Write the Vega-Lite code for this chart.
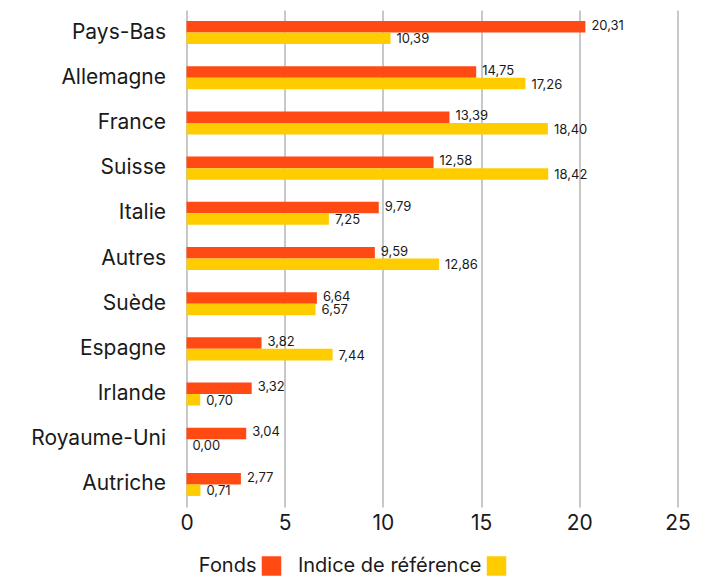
{
  "$schema": "https://vega.github.io/schema/vega-lite/v6.json",
  "autosize": {"type": "none"},
  "padding": {"left": 186.5, "top": 10, "right": 27.5, "bottom": 76},
  "width": 491,
  "height": 497,
  "background": "white",
  "config": {
    "font": "Inter",
    "view": {"stroke": null},
    "locale": {"number": {"decimal": ",", "thousands": " ", "grouping": [3], "currency": ["", " €"]}}
  },
  "data": {
    "values": [
      {"pays": "Pays-Bas", "serie": "Fonds", "valeur": 20.31},
      {"pays": "Pays-Bas", "serie": "Indice de référence", "valeur": 10.39},
      {"pays": "Allemagne", "serie": "Fonds", "valeur": 14.75},
      {"pays": "Allemagne", "serie": "Indice de référence", "valeur": 17.26},
      {"pays": "France", "serie": "Fonds", "valeur": 13.39},
      {"pays": "France", "serie": "Indice de référence", "valeur": 18.40},
      {"pays": "Suisse", "serie": "Fonds", "valeur": 12.58},
      {"pays": "Suisse", "serie": "Indice de référence", "valeur": 18.42},
      {"pays": "Italie", "serie": "Fonds", "valeur": 9.79},
      {"pays": "Italie", "serie": "Indice de référence", "valeur": 7.25},
      {"pays": "Autres", "serie": "Fonds", "valeur": 9.59},
      {"pays": "Autres", "serie": "Indice de référence", "valeur": 12.86},
      {"pays": "Suède", "serie": "Fonds", "valeur": 6.64},
      {"pays": "Suède", "serie": "Indice de référence", "valeur": 6.57},
      {"pays": "Espagne", "serie": "Fonds", "valeur": 3.82},
      {"pays": "Espagne", "serie": "Indice de référence", "valeur": 7.44},
      {"pays": "Irlande", "serie": "Fonds", "valeur": 3.32},
      {"pays": "Irlande", "serie": "Indice de référence", "valeur": 0.70},
      {"pays": "Royaume-Uni", "serie": "Fonds", "valeur": 3.04},
      {"pays": "Royaume-Uni", "serie": "Indice de référence", "valeur": 0.00},
      {"pays": "Autriche", "serie": "Fonds", "valeur": 2.77},
      {"pays": "Autriche", "serie": "Indice de référence", "valeur": 0.71}
    ]
  },
  "encoding": {
    "y": {
      "field": "pays", "type": "nominal", "sort": null,
      "scale": {"paddingInner": 0.49, "paddingOuter": 0.245},
      "axis": {"title": null, "domain": false, "ticks": false, "labelFontSize": 21, "labelColor": "#1a1a1a", "labelPadding": 21}
    },
    "yOffset": {"field": "serie", "type": "nominal", "scale": {"paddingInner": 0, "paddingOuter": 0}}
  },
  "layer": [
    {
      "mark": {"type": "bar"},
      "encoding": {
        "x": {
          "field": "valeur", "type": "quantitative",
          "scale": {"domain": [0, 25], "nice": false},
          "axis": {"title": null, "values": [0, 5, 10, 15, 20, 25], "domain": false, "ticks": false, "grid": true, "gridColor": "#c8c8c8", "gridWidth": 2, "labelFontSize": 21, "labelColor": "#1a1a1a", "labelPadding": 5, "labelFlush": false}
        },
        "color": {
          "field": "serie", "type": "nominal",
          "scale": {"domain": ["Fonds", "Indice de référence"], "range": ["#ff4a14", "#ffcc00"]},
          "legend": {
            "title": null, "orient": "none", "direction": "horizontal", "legendX": 75, "legendY": 546,
            "symbolType": "square", "symbolSize": 380, "symbolStrokeWidth": 0, "symbolOpacity": 1,
            "labelFontSize": 20, "labelColor": "#1a1a1a", "labelAlign": "right", "labelOffset": -25,
            "columnPadding": 16, "labelLimit": 300
          }
        }
      }
    },
    {
      "transform": [{"filter": "datum.serie === 'Fonds'"}],
      "mark": {"type": "text", "align": "left", "dx": 6, "dy": -1, "fontSize": 13, "color": "#1a1a1a"},
      "encoding": {
        "x": {"field": "valeur", "type": "quantitative"},
        "text": {"field": "valeur", "type": "quantitative", "format": ".2f"}
      }
    },
    {
      "transform": [{"filter": "datum.serie !== 'Fonds'"}],
      "mark": {"type": "text", "align": "left", "dx": 6, "dy": 1, "fontSize": 13, "color": "#1a1a1a"},
      "encoding": {
        "x": {"field": "valeur", "type": "quantitative"},
        "text": {"field": "valeur", "type": "quantitative", "format": ".2f"}
      }
    },
    {
      "mark": {"type": "rule", "color": "black", "strokeWidth": 4.5},
      "encoding": {"x": {"datum": 0}}
    }
  ]
}
